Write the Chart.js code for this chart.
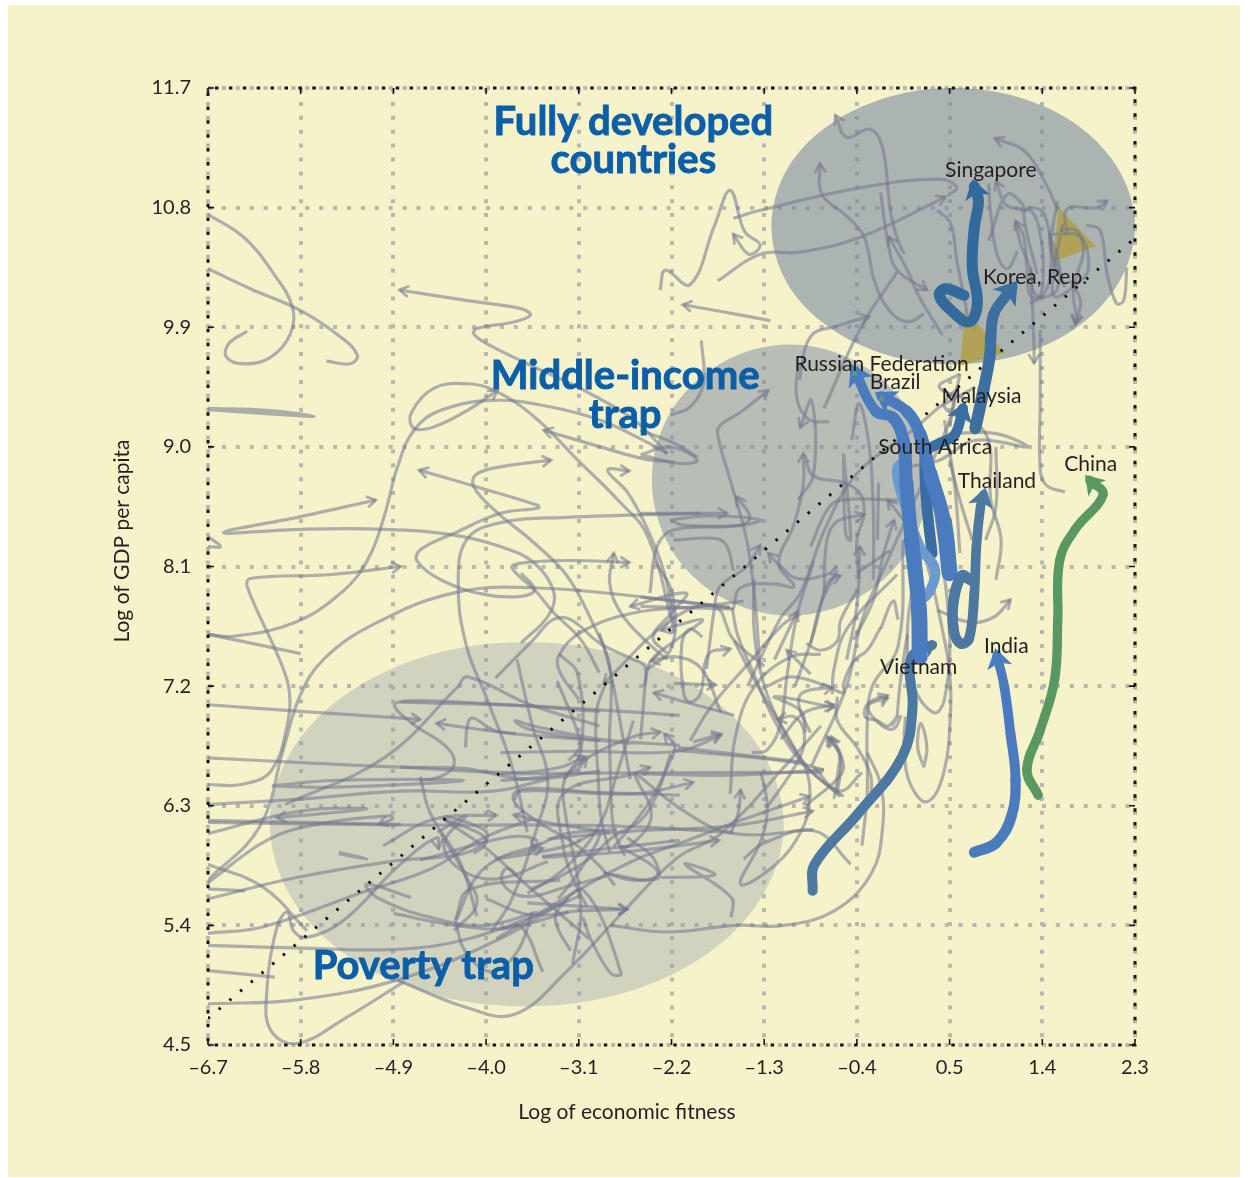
<!DOCTYPE html>
<html>
  <head>
    <meta charset="utf-8" />
    <title>Economic fitness and GDP per capita</title>
    <style>
        html, body {
            width: 100%;
            height: 100%;
            margin: 0;
            padding: 0;
            overflow: hidden;
            background: #fff;
        }
        #panel {
            position: absolute;
            left: 8px;
            top: 5px;
            width: 1232px;
            height: 1172px;
            background: #f6f3cb;
        }
        #chart {
            position: absolute;
            left: 0;
            top: 0;
        }
    </style>
  </head>
  <body>
    <div id="panel"></div>
    <canvas id="chart" width="1250" height="1178"></canvas>

    <script src="https://cdnjs.cloudflare.com/ajax/libs/Chart.js/4.4.1/chart.umd.js"></script>
    <script>
        const xTicks = [-6.7, -5.8, -4.9, -4.0, -3.1, -2.2, -1.3, -0.4, 0.5, 1.4, 2.3];
        const yTicks = [4.5, 5.4, 6.3, 7.2, 8.1, 9.0, 9.9, 10.8, 11.7];

        const regionTopX = [2.06, 2.30, 2.06, 1.42, .53, -.35, -1.0, -1.23, -1.0, -.35, .53, 1.42, 2.06, 2.30, 2.06];
        const regionTopY = [10.14, 10.66, 11.18, 11.56, 11.70, 11.56, 11.18, 10.66, 10.14, 9.76, 9.62, 9.76, 10.14, 10.66, 11.18];
        const regionMidX = [.11, .29, .11, -.38, -1.05, -1.72, -2.21, -2.39, -2.21, -1.72, -1.05, -.38, .11, .29, .11];
        const regionMidY = [8.24, 8.75, 9.26, 9.63, 9.77, 9.63, 9.26, 8.75, 8.24, 7.87, 7.73, 7.87, 8.24, 8.75, 9.26];
        const regionLowX = [-1.45, -1.11, -1.45, -2.37, -3.62, -4.86, -5.77, -6.10, -5.77, -4.86, -3.62, -2.37, -1.45, -1.11, -1.45];
        const regionLowY = [5.475, 6.16, 6.845, 7.35, 7.53, 7.35, 6.845, 6.16, 5.475, 4.97, 4.79, 4.97, 5.475, 6.16, 6.845];

        const triangleHigh = [[1.56, 10.80], [1.92, 10.51], [1.50, 10.39], [1.56, 10.80]];
        const triangleLow = [[.65, 10.02], [1.04, 9.71], [.60, 9.61], [.65, 10.02]];
        const diagonal = [[-6.7, 4.70], [2.3, 10.57]];

        // highlighted countries
        const vietnam = [[-.83, 5.66], [-.81, 5.86], [-.39, 6.24], [.04, 6.67], [.14, 7.04], [.11, 7.34], [.15, 7.44], [.33, 7.51]];
        const india = [[.74, 5.95], [.95, 6.02], [1.10, 6.22], [1.14, 6.5], [1.09, 6.85], [1.03, 7.2], [.96, 7.43]];
        const china = [[1.36, 6.38], [1.25, 6.57], [1.38, 6.87], [1.52, 7.25], [1.55, 7.7], [1.57, 8.15], [1.72, 8.38], [1.99, 8.64], [1.86, 8.75]];
        const thailand = [[.70, 8.0], [.62, 8.03], [.54, 7.85], [.54, 7.62], [.61, 7.52], [.69, 7.56], [.74, 7.9], [.76, 8.25], [.80, 8.55], [.83, 8.64]];
        const southAfrica = [[.18, 8.25], [.20, 7.97], [.26, 7.87], [.36, 8.07], [.21, 8.25], [.04, 8.63], [-.01, 8.83], [.07, 8.90]];
        const malaysia = [[.33, 8.20], [.28, 8.55], [.26, 8.83], [.28, 8.97], [.41, 9.03], [.55, 9.09], [.63, 9.29]];
        const korea = [[.75, 9.14], [.83, 9.43], [.89, 9.68], [.90, 9.83], [.93, 10.00], [1.04, 10.13], [1.11, 10.20]];
        const singapore = [[.64, 10.14], [.46, 10.19], [.40, 10.14], [.51, 10.03], [.69, 9.94], [.77, 10.08], [.72, 10.35], [.74, 10.65], [.78, 10.85], [.74, 10.96]];
        const russia = [[.21, 7.42], [.20, 7.80], [.13, 8.30], [.08, 8.73], [.05, 9.05], [-.05, 9.22], [-.22, 9.27], [-.42, 9.57]];
        const brazil = [[.50, 8.05], [.44, 8.45], [.31, 8.80], [.21, 9.10], [.08, 9.27], [-.16, 9.38]];
        const greenTips = [[-.42, 9.55], [-.16, 9.36]];

        // grey country trajectories, arrow at the last point
        const t01 = [[-2.24, 8.95], [-2.56, 9.2], [-3.05, 9.425], [-3.53, 9.6], [-3.99, 9.775], [-4.12, 9.85], [-4.09, 9.89], [-3.73, 9.94], [-3.57, 9.99], [-3.66, 10.04], [-4.18, 10.10], [-4.84, 10.18]];
        const t02 = [[-2.17, 7.6], [-2.43, 8.325], [-2.72, 8.6], [-3.11, 8.9], [-3.53, 9.225], [-3.92, 9.425], [-4.18, 9.475], [-4.51, 9.44], [-4.73, 9.25], [-4.7, 9.14], [-4.51, 9.15], [-4.18, 9.275], [-3.89, 9.425]];
        const t03 = [[-3.66, 7.525], [-3.4, 7.725], [-3.34, 7.9], [-3.53, 8.125], [-3.86, 8.25], [-4.34, 8.34], [-4.99, 8.38], [-5.8, 8.38], [-6.55, 8.355], [-5.8, 8.475], [-5.07, 8.6]];
        const t04 = [[-6.7, 6.46], [-6.38, 6.46], [-6.09, 6.56], [-5.93, 6.91], [-5.91, 7.16], [-6.0, 7.39], [-6.32, 7.95], [-6.29, 8.01], [-5.5, 8.04], [-4.83, 8.1]];
        const t05 = [[-3.66, 8.05], [-3.53, 7.925], [-3.66, 7.875], [-4.02, 7.89], [-4.44, 8.0], [-4.67, 8.14], [-4.64, 8.225], [-4.31, 8.35], [-3.86, 8.5], [-3.49, 8.54], [-3.5, 8.56], [-4.12, 8.705], [-4.65, 8.825]];
        const t06 = [[-2.6, 6.5], [-2.82, 7.4], [-2.95, 7.65], [-3.21, 8.025], [-3.53, 8.275], [-3.92, 8.525], [-4.12, 8.7], [-4.1, 8.79], [-3.86, 8.85], [-3.37, 8.9]];
        const t07 = [[-2.9, 7.3], [-3.08, 7.55], [-3.34, 7.75], [-3.53, 7.925], [-3.75, 8.09], [-3.66, 8.125], [-3.21, 8.145], [-2.61, 8.13]];
        const t08 = [[-2.24, 7.4], [-2.43, 7.525], [-2.69, 7.75], [-2.8, 7.975], [-2.76, 8.2]];
        const t09 = [[-2.17, 8.885], [-2.47, 8.91], [-2.89, 9.0], [-3.44, 9.125]];
        const t10 = [[-2.17, 7.65], [-2.27, 8.05], [-2.43, 8.375], [-2.62, 8.65], [-2.82, 8.825], [-2.61, 8.82]];
        const t11 = [[-1.34, 7.33], [-1.39, 7.85], [-1.47, 8.3], [-1.63, 8.75], [-1.74, 9.05], [-1.74, 9.15], [-1.53, 9.26], [-1.26, 9.425]];
        const t12 = [[-2.5, 8.5], [-2.08, 8.5], [-1.66, 8.5]];
        const t13 = [[-2.41, 7.9], [-2.34, 8.25], [-2.18, 8.375], [-1.53, 8.41], [-1.44, 8.475], [-1.57, 8.625]];
        const t14 = [[-1.86, 7.33], [-1.78, 7.8], [-1.73, 7.95], [-1.47, 8.1], [-1.34, 8.26]];
        const t15 = [[-.59, 8.1], [-.69, 8.04], [-.98, 8.01], [-1.14, 8.1], [-1.26, 8.2]];
        const t16 = [[-1.6, 7.78], [-1.53, 7.94], [-1.21, 7.97], [-1.01, 7.95], [-1.16, 8.12], [-1.01, 8.42], [-.92, 8.72], [-.92, 8.95]];
        const t17 = [[-.97, 8.6], [-.82, 8.8], [-.84, 9.35], [-.95, 9.145]];
        const t18 = [[-.72, 7.9], [-.69, 8.3], [-.59, 8.44], [-.33, 8.49]];
        const t19 = [[-.43, 7.55], [-.24, 7.85], [-.14, 8.2], [-.04, 8.45]];
        const t20 = [[-1.0, 7.2], [-.82, 7.6], [-.72, 7.9], [-.66, 8.0], [-.56, 8.03]];
        const t21 = [[-.5, 7.4], [-.4, 7.8], [-.37, 8.25]];
        const t22 = [[-1.2, 7.4], [-.98, 7.76]];
        const t23 = [[.43, 9.84], [.19, 10.15], [.09, 10.33], [-.09, 10.58]];
        const t24 = [[.06, 10.45], [.01, 10.53], [-.07, 10.75], [-.15, 11.25], [-.27, 11.39], [-.5, 11.33], [-.61, 11.495]];
        const t25 = [[.25, 10.0], [.09, 9.94], [-.09, 10.03], [-.23, 10.25], [-.33, 10.58], [-.49, 10.73], [-.74, 10.9], [-.76, 11.13]];
        const t26 = [[-1.75, 10.25], [-1.34, 10.45], [-.95, 10.465], [-.36, 10.58], [.46, 10.88]];
        const t27 = [[-.17, 10.915], [-.09, 10.5], [-.01, 10.33], [.28, 10.18]];
        const t28 = [[-.96, 9.5], [-.85, 9.83], [-.59, 9.91], [-.28, 9.98]];
        const t29 = [[1.55, 10.78], [1.42, 11.0], [1.22, 11.23], [.94, 11.32]];
        const t30 = [[1.64, 10.6], [1.64, 10.79], [1.93, 10.8], [2.03, 10.85]];
        const t31 = [[1.45, 10.13], [1.29, 10.13], [1.25, 10.35], [1.22, 10.58], [1.14, 10.7]];
        const t32 = [[1.29, 10.35], [1.32, 9.75], [1.32, 9.63]];
        const t33 = [[.88, 10.55], [1.06, 10.9], [1.22, 10.8], [1.05, 10.82], [.95, 11.0]];
        const t34 = [[1.67, 10.25], [1.77, 10.1], [1.72, 9.92]];
        const t35 = [[-.06, 6.9], [-.01, 6.97], [-.1, 6.9], [-.2, 6.94], [-.32, 6.97], [-.29, 7.07], [-.1, 7.13]];
        const t36 = [[.38, 7.77], [.7, 7.68], [.93, 7.72], [1.09, 7.85]];
        const t37 = [[-.9, 6.3], [-.55, 6.54], [-.55, 6.67], [-.65, 6.82]];
        const t38 = [[-6.7, 7.06], [-5.8, 7.01], [-4.64, 6.95]];
        const t39 = [[-2.89, 6.79], [-3.71, 6.84], [-4.48, 6.92]];
        const t40 = [[-6.7, 6.09], [-5.8, 6.26], [-5.16, 6.275], [-6.03, 6.21]];
        const t41 = [[-6.7, 5.72], [-6.13, 6.04], [-5.64, 6.16], [-4.93, 6.225], [-4.91, 6.2], [-5.04, 6.16]];
        const t42 = [[-4.8, 4.975], [-5.35, 4.71], [-5.84, 4.51], [-6.09, 4.61], [-6.13, 4.89], [-6.03, 5.39], [-5.93, 5.5], [-5.87, 5.36], [-5.74, 5.31], [-5.38, 5.44], [-4.86, 5.84], [-4.48, 6.06], [-4.46, 5.975]];
        const t43 = [[-4.0, 5.6], [-3.58, 5.48], [-3.08, 5.51], [-2.63, 5.52]];
        const t44 = [[-3.45, 5.91], [-2.56, 5.96], [-1.74, 6.04]];
        const t45 = [[-3.9, 5.3], [-3.05, 5.69], [-2.56, 5.89], [-2.04, 6.04], [-1.53, 6.19], [-.86, 6.37]];
        const t46 = [[-3.4, 6.05], [-2.56, 6.11], [-1.6, 6.15], [-.83, 6.26]];
        const t47 = [[-1.62, 6.1], [-1.55, 6.25], [-1.53, 6.42]];
        const t48 = [[-3.73, 6.34], [-3.66, 6.41], [-2.56, 6.39], [-1.99, 6.475]];
        const t49 = [[-3.86, 6.49], [-3.53, 6.51], [-3.14, 6.56], [-3.02, 6.66]];
        const t50 = [[-1.59, 6.98], [-2.11, 7.09], [-2.37, 7.15]];
        const t51 = [[-1.72, 7.0], [-1.91, 7.33], [-2.15, 7.42], [-2.4, 7.39]];
        const t52 = [[-3.86, 6.7], [-3.08, 6.71], [-2.14, 6.71], [-1.72, 6.83]];
        const t53 = [[-.9, 6.85], [-.94, 7.01], [-1.2, 7.12], [-.62, 7.04]];
        const t54 = [[-.56, 6.68], [-.62, 6.36], [-.57, 6.68], [-.67, 6.81]];
        const t55 = [[.03, 6.98], [-.04, 6.88], [-.17, 6.91], [-.29, 7.05], [-.1, 7.11]];
        const t56 = [[-2.76, 5.99], [-2.43, 6.31], [-2.21, 6.64], [-2.17, 6.76], [-2.27, 6.84]];
        const t57 = [[-2.25, 7.45], [-2.38, 7.57], [-2.2, 7.75], [-2.06, 7.9], [-2.6, 7.8]];
        const t58 = [[-2.46, 7.2], [-2.4, 7.39], [-2.15, 7.55], [-1.9, 7.7], [-2.3, 7.62]];
        const t59 = [[-1.3, 7.35], [-1.6, 7.55], [-1.78, 7.8], [-2.2, 7.7], [-2.86, 7.22]];
        const t60 = [[-3.3, 5.6], [-3.1, 5.8], [-2.9, 6.1], [-3.2, 6.0], [-3.9, 5.9], [-3.45, 5.98]];
        const t61 = [[.07, 6.97], [.06, 6.72], [.12, 6.46], [.28, 6.33], [.44, 6.54], [.51, 7.02], [.5, 7.3], [.45, 7.55], [.25, 8.2], [.1, 8.4], [-.1, 8.6]];
        const t62 = [[-2.31, 10.18], [-2.26, 10.33], [-2.02, 10.22], [-1.78, 10.67], [-1.63, 10.93], [-1.49, 10.62], [-1.34, 10.52], [-1.45, 10.45], [-1.6, 10.6]];
        const t63 = [[-1.24, 9.95], [-1.73, 10.02], [-2.09, 10.07]];
        const t64 = [[-1.9, 7.57], [-2.02, 7.63], [-2.1, 7.52], [-2.08, 7.14], [-2.02, 7.08], [-1.92, 7.14], [-1.84, 7.44], [-1.63, 7.48]];
        const t65 = [[-2.18, 7.22], [-1.77, 7.21]];
        const t66 = [[-1.27, 6.29], [-.97, 6.64], [-.91, 6.84], [-1.01, 6.97], [-1.17, 6.95]];
        const t67 = [[-.85, 7.29], [-1.08, 7.47]];
        const t68 = [[-.85, 6.85], [-.96, 7.04], [-.93, 7.15], [-.64, 7.19]];
        const t69 = [[-1.14, 6.8], [-.91, 7.0], [-.62, 7.06]];
        const t70 = [[-.59, 6.39], [-.56, 6.67], [-.69, 6.82]];
        const t71 = [[-1.99, 6.78], [-1.72, 6.84]];
        const t72 = [[-3.25, 6.5], [-3.06, 6.64], [-2.57, 6.82], [-2.31, 6.855]];
        const t73 = [[-3.02, 5.54], [-3.15, 5.74], [-3.25, 5.99], [-3.25, 6.39], [-2.57, 6.54], [-2.41, 6.59]];
        const t74 = [[-4.83, 6.59], [-3.73, 6.55], [-3.28, 6.59], [-3.04, 6.67]];
        const t75 = [[-2.86, 5.8], [-2.57, 5.74], [-2.34, 5.77], [-2.37, 5.84], [-2.7, 5.99]];
        const t76 = [[-3.6, 5.57], [-2.63, 5.52]];
        const t77 = [[-4.64, 5.89], [-3.99, 6.03], [-3.7, 6.07], [-3.51, 6.04], [-3.54, 5.97]];
        const t78 = [[-2.8, 6.1], [-3.38, 6.17], [-3.73, 6.23]];
        const t79 = [[-5.0, 6.0], [-4.5, 6.2], [-3.9, 6.23]];
        const t80 = [[1.57, 10.63], [1.73, 10.63], [1.8, 10.48], [1.73, 10.28], [1.7, 10.15], [1.73, 9.98], [1.72, 9.93]];

        // same trajectories without a visible arrow
        const p01 = [[-6.7, 10.75], [-6.35, 10.575], [-6.06, 10.30], [-5.88, 10.05], [-5.90, 9.85], [-6.09, 9.675], [-6.35, 9.625], [-6.52, 9.675], [-6.50, 9.775], [-6.32, 9.87]];
        const p02 = [[-6.7, 10.34], [-6.29, 10.19], [-5.80, 10.025], [-5.41, 9.825], [-5.25, 9.69], [-5.32, 9.625], [-5.55, 9.645]];
        const p03 = [[-6.7, 9.29], [-6.13, 9.275], [-5.67, 9.23], [-6.13, 9.25], [-6.7, 9.28]];
        const p04 = [[-6.7, 7.59], [-6.45, 7.575], [-5.87, 7.675], [-5.41, 7.9], [-5.15, 8.15], [-4.99, 8.475], [-4.86, 8.85], [-4.7, 9.125], [-4.44, 9.275], [-3.92, 9.35], [-3.37, 9.3], [-2.89, 9.2], [-2.5, 9.06], [-2.24, 8.95]];
        const p05 = [[-6.7, 7.59], [-5.8, 7.445]];
        const p06 = [[-6.7, 8.325], [-6.58, 8.25], [-6.7, 8.25]];
        const p07 = [[-1.92, 8.5], [-3.22, 8.47], [-3.86, 8.43], [-4.19, 8.3], [-4.27, 7.95], [-4.19, 7.5], [-3.99, 7.1], [-3.75, 6.6], [-3.6, 6.1]];
        const p08 = [[-3.91, 7.26], [-3.54, 7.55], [-3.35, 7.7], [-3.18, 7.7], [-2.89, 7.52], [-2.57, 7.4], [-2.46, 7.35], [-2.46, 7.2], [-2.5, 6.8]];
        const p09 = [[-3.1, 7.1], [-3.28, 7.3], [-3.3, 7.42], [-3.09, 7.6], [-2.57, 7.75], [-1.92, 7.8], [-1.5, 7.84]];
        const p10 = [[-6.7, 5.74], [-6.2, 6.14], [-5.97, 6.72], [-5.81, 7.12], [-5.58, 7.4], [-5.08, 7.67], [-4.32, 7.9], [-3.54, 7.94], [-2.24, 7.85], [-1.63, 7.79]];
        const p11 = [[-2.21, 8.45], [-1.86, 8.48], [-1.34, 8.45], [-1.53, 8.41], [-2.08, 8.41], [-2.21, 8.45]];
        const p12 = [[-1.6, 8.07], [-1.66, 8.25], [-1.76, 8.31], [-2.18, 8.3]];
        const p13 = [[-2.5, 7.87], [-1.63, 7.79]];
        const p14 = [[-2.5, 7.8], [-1.6, 7.78]];
        const p15 = [[-.67, 9.19], [-.85, 9.2], [-.97, 9.325], [-.98, 9.55], [-.92, 9.65]];
        const p16 = [[-.53, 8.95], [-.51, 8.35], [-.46, 8.3], [-.53, 8.95]];
        const p17 = [[-.2, 8.3], [-.19, 8.73], [-.2, 8.3]];
        const p18 = [[-.45, 9.05], [-.38, 9.325], [-.28, 9.0], [-.24, 8.5], [-.24, 8.0]];
        const p19 = [[-.85, 8.25], [-.69, 8.525], [-.56, 8.6], [0, 8.6]];
        const p20 = [[-.9, 8.9], [-.82, 8.78], [-.53, 8.73], [-.37, 8.65], [-.33, 8.5], [-.4, 8.3], [-.38, 8.0]];
        const p21 = [[-1.91, 9.8], [-1.89, 9.475], [-2.02, 9.3], [-2.21, 9.24]];
        const p22 = [[-2.5, 8.94], [-2.21, 9.0], [-1.95, 8.9], [-2.12, 8.875], [-2.5, 8.94]];
        const p23 = [[-2.5, 9.125], [-2.18, 9.03], [-1.95, 8.925]];
        const p24 = [[-.4, 8.05], [-.08, 8.22]];
        const p25 = [[-1.6, 10.72], [-1.34, 10.78], [-.36, 10.95], [.41, 11.015], [.57, 10.95], [.48, 10.89]];
        const p26 = [[-.72, 9.29], [-.36, 9.9], [-.01, 10.315]];
        const p27 = [[.38, 10.78], [.51, 10.68], [.57, 10.4], [.64, 10.13], [.67, 10.0]];
        const p28 = [[1.16, 10.47], [1.06, 10.34], [.96, 10.45], [.9, 10.75], [.88, 10.98]];
        const p29 = [[1.83, 10.67], [1.96, 10.63], [2.03, 10.3], [2.12, 10.08], [2.19, 10.1], [2.22, 10.35]];
        const p30 = [[1.52, 10.35], [1.42, 10.75], [1.29, 10.8], [1.22, 10.75], [1.35, 10.3]];
        const p31 = [[1.5, 10.6], [1.77, 10.58], [1.85, 10.35], [1.77, 10.25], [1.52, 10.13], [1.52, 10.35], [1.6, 10.68]];
        const p32 = [[1.38, 9.88], [1.38, 9.35], [1.38, 8.83], [1.44, 8.71], [1.62, 8.66]];
        const p33 = [[.25, 6.59], [.19, 6.74], [.22, 6.92], [.28, 6.74], [.25, 6.59]];
        const p34 = [[.09, 7.59], [.02, 7.22], [-.01, 6.97]];
        const p35 = [[.15, 8.0], [.09, 7.59], [.15, 7.2], [.35, 7.0], [.45, 7.1], [.5, 7.6], [.4, 8.3], [.3, 8.8]];
        const p36 = [[-1.59, 7.54], [-1.37, 7.21], [-1.01, 6.74], [-.88, 6.54], [-.86, 6.34], [-.94, 6.11], [-1.2, 5.85], [-1.53, 5.71], [-1.33, 6.04], [-1.27, 6.29], [-1.33, 6.55]];
        const p37 = [[-6.7, 6.66], [-5.8, 6.625], [-4.83, 6.59], [-4.2, 6.58], [-3.6, 6.5], [-2.89, 6.56]];
        const p38 = [[-2.89, 7.01], [-4.02, 7.07], [-4.77, 7.09], [-4.89, 7.05], [-4.7, 6.91], [-4.38, 6.74], [-4.31, 6.61], [-4.44, 6.52], [-4.65, 6.49]];
        const p39 = [[-4.2, 6.74], [-4.18, 6.91], [-4.13, 6.96], [-3.93, 6.87], [-3.71, 6.84]];
        const p40 = [[-6.7, 6.31], [-5.8, 6.35], [-4.83, 6.41], [-3.93, 6.41], [-3.4, 6.5]];
        const p41 = [[-6.08, 6.45], [-5.48, 6.49], [-4.22, 6.49], [-5.48, 6.44], [-6.08, 6.45]];
        const p42 = [[-6.7, 6.175], [-4.83, 6.155], [-2.89, 6.15], [-1.6, 6.1]];
        const p43 = [[-6.7, 6.19], [-4.83, 6.16]];
        const p44 = [[-6.7, 5.86], [-6.17, 5.69], [-5.74, 5.36]];
        const p45 = [[-6.7, 5.34], [-6.16, 5.39], [-5.2, 5.65], [-4.55, 5.82], [-4.02, 6.06], [-3.55, 6.2]];
        const p46 = [[-6.7, 5.25], [-5.84, 5.23], [-4.86, 5.22], [-4.22, 5.29], [-3.57, 5.46], [-3.1, 5.62]];
        const p47 = [[-6.7, 5.06], [-6.05, 5.01]];
        const p48 = [[-6.7, 4.81], [-5.84, 4.84], [-4.86, 4.99], [-3.89, 5.29], [-3.2, 5.6]];
        const p49 = [[-6.7, 5.675], [-6.34, 5.66]];
        const p50 = [[-6.7, 5.6], [-5.84, 5.76], [-4.93, 5.88], [-4.22, 5.94], [-4.0, 6.04], [-4.02, 6.12], [-4.41, 6.21], [-4.0, 5.98], [-3.6, 5.7], [-3.0, 5.3]];
        const p51 = [[-5.43, 5.94], [-5.16, 5.9], [-5.43, 5.95]];
        const p52 = [[-4.73, 5.61], [-5.16, 5.71], [-5.06, 5.61], [-4.54, 5.46], [-4.02, 5.4], [-3.5, 5.5]];
        const p53 = [[-4.9, 5.49], [-4.3, 5.4], [-3.8, 5.38], [-3.2, 5.5]];
        const p54 = [[-5.95, 6.31], [-4.99, 6.66], [-4.28, 7.19], [-4.18, 7.27], [-3.57, 7.06], [-2.9, 6.9]];
        const p55 = [[-4.47, 6.1], [-4.2, 6.22], [-4.41, 6.02], [-4.25, 5.82], [-3.9, 5.75], [-3.4, 5.88]];
        const p56 = [[-4.86, 4.99], [-4.22, 4.79], [-3.73, 4.73], [-3.21, 5.06], [-2.66, 5.51], [-2.14, 5.91], [-1.72, 6.09], [-1.05, 6.64], [-.75, 6.9]];
        const p57 = [[-2.79, 5.4], [-2.24, 5.35], [-1.59, 5.4], [-1.11, 5.4], [-.62, 5.51], [-.26, 5.79], [-.15, 6.14], [-.17, 6.46], [-.3, 6.7]];
        const p58 = [[-2.3, 5.76], [-1.78, 5.78], [-2.07, 5.86], [-1.62, 5.61], [-1.62, 5.46]];
        const p59 = [[-2.85, 5.79], [-2.34, 5.75], [-2.38, 5.91], [-2.63, 6.06]];
        const p60 = [[-3.45, 5.05], [-3.66, 5.39], [-3.86, 5.37]];
        const p61 = [[-3.18, 5.21], [-3.31, 5.39], [-3.31, 5.51], [-3.05, 5.66], [-2.69, 5.04], [-2.79, 5.04], [-2.98, 5.29], [-3.06, 5.46]];
        const p62 = [[-3.16, 5.11], [-3.08, 5.54], [-3.24, 6.29], [-3.24, 6.49], [-3.08, 6.71], [-3.11, 7.29], [-3.29, 7.44]];
        const p63 = [[-2.9, 7.6], [-2.79, 7.3], [-2.8, 6.7], [-2.7, 6.0], [-2.4, 6.2], [-2.56, 6.54]];
        const p64 = [[-2.14, 6.74], [-.94, 6.63]];
        const p65 = [[-3.86, 6.54], [-1.92, 6.55], [-.73, 6.55]];
        const p66 = [[-2.56, 6.55], [-2.04, 6.24], [-1.59, 6.09], [-.82, 6.12]];
        const p67 = [[-.46, 5.86], [-.81, 6.11], [-1.3, 6.02], [-1.5, 5.9]];
        const p68 = [[-3.7, 7.4], [-3.55, 6.9], [-3.4, 6.5], [-3.5, 6.15], [-3.75, 5.6], [-3.95, 5.35]];
        const p69 = [[-.82, 6.59], [-.57, 6.41], [-.35, 6.55]];
        const p70 = [[-.35, 6.0], [-.3, 6.4], [-.3, 6.9], [-.25, 7.2], [0, 7.5], [.05, 8.3]];
        const p71 = [[-1.46, 7.2], [-1.15, 7.7], [-.95, 7.9], [-.7, 8.4], [-.4, 8.8], [.1, 9.1], [.4, 9.3]];
        const p72 = [[-.84, 6.6], [-.5, 7.2], [-.35, 7.7], [-.1, 8.15], [.25, 8.75], [.5, 9.2], [.55, 9.4]];
        const p73 = [[.1, 8.85], [.4, 8.9], [.75, 9.05], [1.25, 9.0], [.95, 9.1], [.5, 9.1]];
        const p74 = [[.58, 9.45], [.45, 9.3], [.85, 9.1], [.9, 8.6], [1.0, 8.3], [.95, 8.0]];
        const p75 = [[-1.61, 7.79], [-1.56, 7.59], [-1.4, 7.29], [-1.2, 6.94], [-.95, 6.64], [-.56, 6.37]];
        const p76 = [[-1.4, 8.0], [-1.4, 7.64], [-1.34, 7.32], [-1.18, 6.97], [-.88, 6.59], [-.53, 6.37]];
        const p77 = [[-1.42, 6.7], [-1.27, 6.72], [-1.14, 6.92], [-1.08, 7.27], [-.98, 7.74], [-.82, 8.14]];
        const p78 = [[-1.63, 6.39], [-1.58, 6.82], [-1.4, 7.19], [-1.04, 7.42], [-.75, 7.44]];
        const p79 = [[-1.27, 7.2], [-1.04, 7.27], [-.69, 7.2], [-.53, 7.15], [-.53, 7.22], [-.43, 7.39], [-.3, 7.47], [-.17, 7.64]];
        const p80 = [[-.59, 7.12], [-.59, 6.94], [-.4, 6.74], [-.27, 6.54], [-.26, 6.39]];
        const p81 = [[-.89, 7.52], [-.75, 7.47], [-.59, 7.54], [-.56, 7.69], [-.4, 7.92]];
        const p82 = [[-.59, 8.07], [-.75, 7.82], [-.85, 7.52]];
        const p83 = [[-.01, 8.04], [-.49, 7.64], [-.62, 7.34], [-.64, 7.14]];
        const p84 = [[-.17, 7.63], [-.05, 7.84], [0, 7.7]];
        const p85 = [[-2.18, 6.72], [-1.04, 6.63], [-.72, 6.57]];
        const p86 = [[-2.5, 6.54], [-1.63, 6.53], [-.72, 6.57]];
        const p87 = [[-2.02, 6.79], [-1.82, 7.04], [-1.43, 7.39], [-1.11, 7.67], [-.95, 7.74]];
        const p88 = [[-2.36, 8.14], [-2.19, 7.89], [-2.2, 7.49], [-2.44, 7.32]];
        const p89 = [[-4.83, 7.08], [-3.54, 7.05], [-2.12, 6.98]];
        const p90 = [[-2.12, 6.755], [-2.89, 6.8], [-3.54, 6.9], [-3.72, 6.94], [-3.6, 6.88], [-3.2, 6.82], [-2.6, 6.77]];
        const p91 = [[-2.12, 6.38], [-2.89, 6.4], [-3.54, 6.43], [-3.72, 6.4], [-3.72, 6.32], [-3.48, 6.17], [-3.15, 6.02], [-2.89, 5.84], [-2.75, 5.7]];
        const p92 = [[-3.57, 5.67], [-3.28, 5.77], [-3.02, 5.89], [-2.76, 6.07], [-2.5, 6.19], [-2.34, 6.39], [-2.21, 6.69]];
        const p93 = [[-3.6, 5.64], [-3.22, 5.84], [-2.89, 6.17], [-2.73, 6.54], [-2.57, 6.94]];
        const p94 = [[-3.69, 5.77], [-3.8, 5.83], [-3.85, 5.74], [-3.73, 5.64], [-3.54, 5.62], [-3.22, 5.69], [-2.83, 5.77]];
        const p95 = [[-3.46, 5.92], [-2.12, 6.04]];
        const p96 = [[-2.83, 7.24], [-2.93, 7.0], [-2.91, 6.49], [-2.88, 6.19], [-2.8, 5.95]];
        const p97 = [[-3.31, 7.24], [-3.12, 6.87], [-3.09, 6.74], [-3.2, 6.64]];
        const p98 = [[-4.64, 6.52], [-4.54, 6.24], [-4.25, 5.87], [-4.09, 5.47]];
        const p99 = [[-4.42, 6.2], [-4.06, 6.09], [-4.0, 6.02], [-4.12, 5.94]];
        const q01 = [[-4.29, 5.44], [-4.09, 5.77], [-3.83, 5.92], [-3.54, 5.99], [-3.22, 6.09], [-2.73, 6.12]];
        const q02 = [[1.14, 10.69], [1.2, 10.5], [1.28, 10.35], [1.31, 10.18], [1.39, 10.13], [1.48, 10.3], [1.47, 10.62]];
        const q03 = [[1.18, 10.78], [1.3, 10.77], [1.38, 10.6], [1.41, 10.35], [1.38, 10.13], [1.28, 10.08]];
        const q04 = [[1.47, 10.6], [1.57, 10.35], [1.54, 10.18], [1.45, 10.13]];
        const q05 = [[1.55, 10.85], [1.5, 10.65], [1.48, 10.5], [1.55, 10.35], [1.62, 10.2]];
        const q06 = [[-4.31, 5.36], [-4.09, 5.56], [-4.19, 5.76], [-4.44, 6.09]];
        const q07 = [[-4.3, 5.44], [-4.16, 5.67], [-3.28, 5.74]];
        const q08 = [[-4.3, 5.44], [-4.2, 5.2], [-3.95, 5.05], [-3.7, 5.2], [-3.55, 5.5]];
        const q09 = [[.5, 8.9], [.6, 8.6], [.72, 8.3]];
        const q10 = [[.45, 9.2], [.55, 8.7], [.6, 8.2]];
        const q11 = [[.95, 9.0], [.95, 8.55], [.85, 8.3]];
        const q12 = [[.6, 9.55], [.4, 9.45], [.7, 9.35]];
        const q13 = [[.4, 9.3], [.75, 9.45]];
        const q14 = [[.5, 9.15], [.6, 9.55]];

        const arrowTrails = [t01, t02, t03, t04, t05, t06, t07, t08, t09, t10, t11, t12, t13, t14, t15, t16, t17, t18, t19, t20,
            t21, t22, t23, t24, t25, t26, t27, t28, t29, t30, t31, t32, t33, t34, t35, t36, t37, t38, t39, t40,
            t41, t42, t43, t44, t45, t46, t47, t48, t49, t50, t51, t52, t53, t54, t55, t56, t57, t58, t59, t60,
            t61, t62, t63, t64, t65, t66, t67, t68, t69, t70, t71, t72, t73, t74, t75, t76, t77, t78, t79, t80];
        const plainTrails = [p01, p02, p03, p04, p05, p06, p07, p08, p09, p10, p11, p12, p13, p14, p15, p16, p17, p18, p19, p20,
            p21, p22, p23, p24, p25, p26, p27, p28, p29, p30, p31, p32, p33, p34, p35, p36, p37, p38, p39, p40,
            p41, p42, p43, p44, p45, p46, p47, p48, p49, p50, p51, p52, p53, p54, p55, p56, p57, p58, p59, p60,
            p61, p62, p63, p64, p65, p66, p67, p68, p69, p70, p71, p72, p73, p74, p75, p76, p77, p78, p79, p80,
            p81, p82, p83, p84, p85, p86, p87, p88, p89, p90, p91, p92, p93, p94, p95, p96, p97, p98, p99,
            q01, q02, q03, q04, q05, q06, q07, q08, q09, q10, q11, q12, q13, q14];

        const countryNames = ["Singapore", "Korea, Rep.", "Russian Federation", "Brazil", "Malaysia", "South Africa", "Thailand", "China", "India", "Vietnam"];
        const countryX = [.90, 1.33, -.16, -.03, .81, .36, .96, 1.87, 1.05, .20];
        const countryY = [11.08, 10.28, 9.62, 9.49, 9.38, 9.0, 8.74, 8.87, 7.5, 7.34];
        const regionNames = ["Fully developed", "countries", "Middle-income", "trap", "Poverty trap"];
        const regionNameX = [-2.57, -2.57, -2.65, -2.65, -4.61];
        const regionNameY = [11.44, 11.16, 9.53, 9.24, 5.09];

        const toPoints = (pairs) => pairs.map((p) => ({ x: p[0], y: p[1] }));
        const GREY = "rgba(116,120,140,0.56)";

        const region = (xs, ys, fillColor) => ({
          data: xs.map((x, i) => ({ x: x, y: ys[i] })),
          fill: "shape",
          backgroundColor: fillColor,
          borderWidth: 0,
          tension: 0.35,
          pointRadius: 0
        });
        const triangle = (pairs) => ({
          data: toPoints(pairs),
          fill: "shape",
          backgroundColor: "rgba(178,156,48,0.72)",
          borderWidth: 0,
          tension: 0,
          pointRadius: 0
        });
        const trail = (pairs, arrow) => ({
          data: toPoints(pairs),
          borderColor: GREY,
          borderWidth: 3.2,
          tension: 0.4,
          pointRadius: 0,
          arrow: arrow
        });
        const country = (pairs, color, w0, w1, head) => ({
          data: toPoints(pairs),
          borderColor: color,
          borderWidth: w0,
          borderCapStyle: "round",
          tension: 0.4,
          pointRadius: 0,
          arrow: "solid",
          headSize: head,
          segment: {
            borderWidth: (ctx) => w0 + (w1 - w0) * ctx.p0DataIndex / (pairs.length - 1)
          }
        });

        // back to front
        const layers = [
          region(regionLowX, regionLowY, "rgba(140,151,166,0.35)"),
          region(regionMidX, regionMidY, "rgba(122,135,161,0.5)"),
          region(regionTopX, regionTopY, "rgba(111,128,159,0.55)"),
          triangle(triangleHigh),
          triangle(triangleLow),
          ...plainTrails.map((t) => trail(t, null)),
          ...arrowTrails.map((t) => trail(t, "barb")),
          {
            data: toPoints(diagonal),
            borderColor: "#111",
            borderWidth: 3,
            borderDash: [2.5, 11.5],
            pointRadius: 0
          },
          country(vietnam, "#4d78a1", 10, 10, 11),
          country(india, "#4a7bbe", 11, 9, 15),
          country(china, "#599862", 9.5, 9, 14),
          country(thailand, "#4d78a1", 11, 9, 15),
          country(malaysia, "#3a6da4", 11, 10, 15),
          country(korea, "#3d6f9f", 12, 10, 17),
          country(singapore, "#33699b", 11, 11, 15),
          country(southAfrica, "#6a9ad0", 10, 10, 1),
          country(russia, "#4a7bbe", 16, 9, 16),
          country(brazil, "#4a7bbe", 16, 9, 16),
          {
            data: toPoints(greenTips),
            showLine: false,
            pointStyle: "triangle",
            pointRadius: 3.5,
            backgroundColor: "#69a067",
            borderWidth: 0
          }
        ];
        layers.forEach((d, i) => { d.order = layers.length - i; });

        const arrowHeads = {
          id: "arrowHeads",
          afterDatasetDraw(chart, args) {
            const ds = chart.data.datasets[args.index];
            if (!ds.arrow) return;
            const pts = args.meta.data;
            const end = pts[pts.length - 1];
            const prev = pts[pts.length - 2];
            const fromX = end.cp1x !== undefined ? end.cp1x : prev.x;
            const fromY = end.cp1y !== undefined ? end.cp1y : prev.y;
            const a = Math.atan2(end.y - fromY, end.x - fromX);
            const ctx = chart.ctx;
            ctx.save();
            ctx.translate(end.x, end.y);
            ctx.rotate(a);
            if (ds.arrow === "barb") {
              ctx.strokeStyle = GREY;
              ctx.lineWidth = 2.8;
              ctx.beginPath();
              ctx.moveTo(-9, -5.5);
              ctx.lineTo(0, 0);
              ctx.lineTo(-9, 5.5);
              ctx.stroke();
            } else {
              const s = ds.headSize;
              ctx.fillStyle = ds.borderColor;
              ctx.beginPath();
              ctx.moveTo(s * 0.5, 0);
              ctx.lineTo(-s * 0.8, -s * 0.85);
              ctx.lineTo(-s * 0.5, 0);
              ctx.lineTo(-s * 0.8, s * 0.85);
              ctx.closePath();
              ctx.fill();
            }
            ctx.restore();
          }
        };

        // dotted black frame and short tick marks on all four sides
        const frame = {
          id: "frame",
          afterDraw(chart) {
            const { ctx, chartArea: a, scales } = chart;
            ctx.save();
            ctx.strokeStyle = "#151515";
            ctx.lineWidth = 3;
            ctx.setLineDash([3.5, 10.4]);
            ctx.lineDashOffset = -7;
            ctx.strokeRect(a.left, a.top, a.right - a.left, a.bottom - a.top);
            ctx.setLineDash([]);
            ctx.lineWidth = 1.6;
            ctx.beginPath();
            xTicks.forEach((v) => {
              const x = scales.x.getPixelForValue(v);
              ctx.moveTo(x, a.top); ctx.lineTo(x, a.top + 6);
              ctx.moveTo(x, a.bottom); ctx.lineTo(x, a.bottom - 6);
            });
            yTicks.forEach((v) => {
              const y = scales.y.getPixelForValue(v);
              ctx.moveTo(a.left, y); ctx.lineTo(a.left + 6, y);
              ctx.moveTo(a.right, y); ctx.lineTo(a.right - 6, y);
            });
            ctx.stroke();
            ctx.restore();
          }
        };

        const labels = {
          id: "labels",
          afterDraw(chart) {
            const { ctx, scales } = chart;
            ctx.save();
            ctx.textAlign = "center";
            ctx.textBaseline = "middle";
            ctx.fillStyle = "#231f20";
            ctx.font = "21px Lato";
            countryNames.forEach((name, i) => {
              ctx.fillText(name, scales.x.getPixelForValue(countryX[i]), scales.y.getPixelForValue(countryY[i]));
            });
            ctx.fillStyle = "#0b5fa8";
            ctx.strokeStyle = "#0b5fa8";
            ctx.lineWidth = 0.9;
            ctx.font = "bold 40px Lato";
            regionNames.forEach((name, i) => {
              const x = scales.x.getPixelForValue(regionNameX[i]);
              const y = scales.y.getPixelForValue(regionNameY[i]);
              ctx.fillText(name, x, y);
              ctx.strokeText(name, x, y);
            });
            ctx.fillStyle = "#231f20";
            ctx.font = "21px Lato";
            ctx.fillText("Log of economic fitness", 627, 1112);
            ctx.translate(122, 541);
            ctx.rotate(-Math.PI / 2);
            ctx.fillText("Log of GDP per capita", 0, 0);
            ctx.restore();
          }
        };

        const dottedGrid = {
          color: "#b8b8ae",
          lineWidth: 4,
          drawTicks: false
        };
        const dottedBorder = { display: false, dash: [4, 9.9] };
        const tickFont = { family: "Lato", size: 20 };
        const minusLabel = (v) => Number(v).toFixed(1).replace("-", "\u2013");

        new Chart(document.getElementById("chart"), {
          type: "line",
          data: { datasets: layers },
          plugins: [arrowHeads, frame, labels],
          options: {
            responsive: false,
            animation: false,
            events: [],
            layout: { padding: { left: 108, top: 88, right: 115, bottom: 33 } },
            plugins: {
              legend: { display: false },
              tooltip: { enabled: false }
            },
            scales: {
              x: {
                type: "linear",
                min: -6.7,
                max: 2.3,
                afterBuildTicks: (s) => { s.ticks = xTicks.map((v) => ({ value: v })); },
                afterFit: (s) => { s.height = 100; },
                grid: dottedGrid,
                border: dottedBorder,
                ticks: {
                  color: "#231f20",
                  font: tickFont,
                  padding: 11,
                  autoSkip: false,
                  maxRotation: 0,
                  callback: minusLabel
                }
              },
              y: {
                type: "linear",
                min: 4.5,
                max: 11.7,
                afterBuildTicks: (s) => { s.ticks = yTicks.map((v) => ({ value: v })); },
                afterFit: (s) => { s.width = 100; },
                grid: dottedGrid,
                border: dottedBorder,
                ticks: {
                  color: "#231f20",
                  font: tickFont,
                  padding: 17,
                  autoSkip: false,
                  callback: minusLabel
                }
              }
            }
          }
        });
    </script>
  </body>
</html>
